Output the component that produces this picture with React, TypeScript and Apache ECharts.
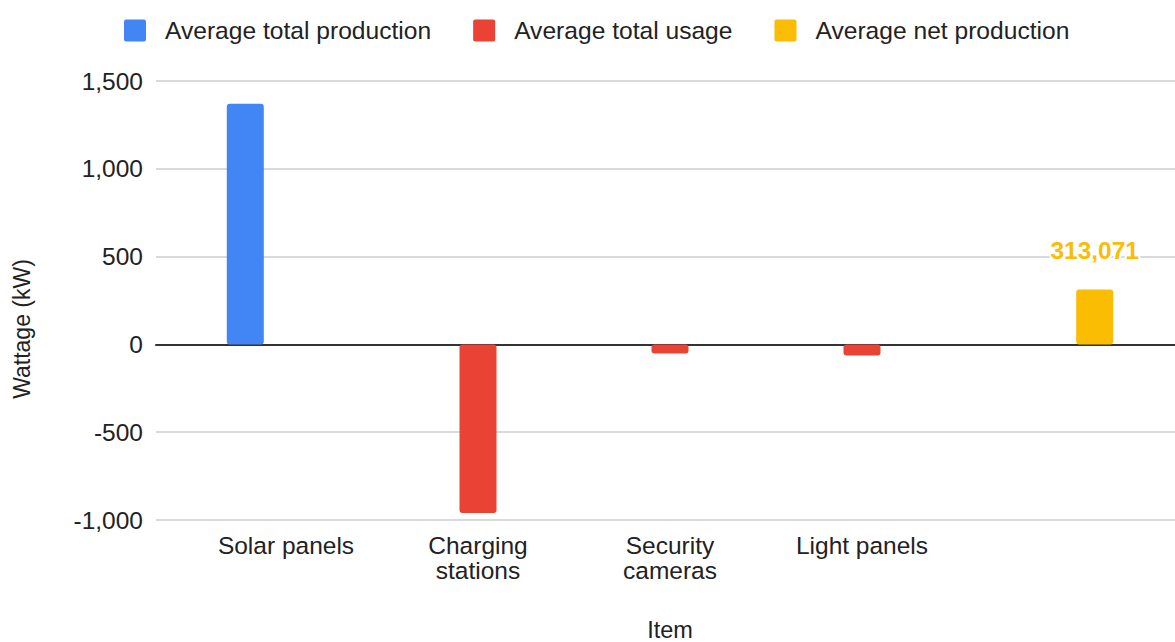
import React, { useEffect, useRef } from "react";
import * as echarts from "echarts";

// Items on the category axis (the last slot holds the net figure)
const items = ["Solar panels", "Charging stations", "Security cameras", "Light panels", ""];

// Average wattage per item, in kW
const totalProduction = [1371, null, null, null, null];
const totalUsage = [null, -960, -52, -63, null];
const netProduction = [null, null, null, null, 313.071];

const seriesNames = ["Average total production", "Average total usage", "Average net production"];
const seriesColors = ["#4285F4", "#EA4335", "#FBBC04"];

const yTicks = { min: -1000, max: 1500, interval: 500 };

const FONT = "'Liberation Sans', Arial, sans-serif";

// Small rounded square used as the legend swatch
const SWATCH =
  "path://M2,0 H20 A2,2 0 0 1 22,2 V20 A2,2 0 0 1 20,22 H2 A2,2 0 0 1 0,20 V2 A2,2 0 0 1 2,0 Z";

export default function App() {
  const ref = useRef<HTMLDivElement>(null);

  useEffect(() => {
    if (!ref.current) return;
    const chart = echarts.init(ref.current, null, { renderer: "svg" });

    const barStyle = (i: number) => ({
      color: seriesColors[i],
      borderRadius: 3,
    });

    const commaDecimal = (v: number) => String(v).replace(".", ",");

    chart.setOption({
      animation: false,
      backgroundColor: "#ffffff",
      textStyle: { fontFamily: FONT },
      legend: {
        left: 124,
        top: 18,
        padding: 0,
        itemWidth: 22,
        itemHeight: 22,
        itemGap: 42,
        icon: SWATCH,
        data: seriesNames,
        textStyle: {
          fontFamily: FONT,
          fontSize: 24.6,
          color: "#222222",
          padding: [0, 0, 0, 14],
        },
      },
      grid: [
        // Frame grid: gridlines and the zero baseline across the full width
        { left: 156, right: 0, top: 81, bottom: 122 },
        // Bar grid: where the categories are laid out
        { left: 190, right: 25, top: 81, bottom: 122 },
      ],
      xAxis: [
        {
          gridIndex: 0,
          type: "category",
          data: [""],
          axisLine: { show: true, onZero: true, lineStyle: { color: "#333333", width: 2 } },
          axisTick: { show: false },
          axisLabel: { show: false },
        },
        {
          gridIndex: 1,
          type: "category",
          data: items,
          axisLine: { show: false, onZero: false },
          axisTick: { show: false },
          axisLabel: {
            interval: 0,
            margin: 13,
            fontFamily: FONT,
            fontSize: 24.5,
            lineHeight: 25,
            color: "#222222",
            align: "center",
            formatter: (v: string) => (v.length > 12 ? v.replace(" ", "\n") : v),
          },
        },
      ],
      yAxis: [
        {
          gridIndex: 0,
          type: "value",
          min: yTicks.min,
          max: yTicks.max,
          interval: yTicks.interval,
          axisLine: { show: false },
          axisTick: { show: false },
          splitLine: { lineStyle: { color: "#cccccc", width: 1.5 } },
          axisLabel: {
            margin: 13,
            fontFamily: FONT,
            fontSize: 24.5,
            color: "#222222",
            formatter: (v: number) => v.toLocaleString("en-US"),
          },
        },
        {
          gridIndex: 1,
          type: "value",
          min: yTicks.min,
          max: yTicks.max,
          interval: yTicks.interval,
          show: false,
        },
      ],
      series: [
        {
          name: seriesNames[0],
          type: "bar",
          xAxisIndex: 1,
          yAxisIndex: 1,
          data: totalProduction,
          barWidth: 37,
          barGap: "10%",
          itemStyle: barStyle(0),
        },
        {
          name: seriesNames[1],
          type: "bar",
          xAxisIndex: 1,
          yAxisIndex: 1,
          data: totalUsage,
          barWidth: 37,
          barGap: "10%",
          itemStyle: barStyle(1),
        },
        {
          name: seriesNames[2],
          type: "bar",
          xAxisIndex: 1,
          yAxisIndex: 1,
          data: netProduction,
          barWidth: 37,
          barGap: "10%",
          itemStyle: barStyle(2),
          label: {
            show: true,
            position: "top",
            distance: 26,
            fontFamily: FONT,
            fontSize: 24.5,
            fontWeight: "bold",
            color: seriesColors[2],
            textBorderColor: "#ffffff",
            textBorderWidth: 4,
            formatter: (p: any) => commaDecimal(p.value),
          },
        },
      ],
      graphic: [
        {
          type: "text",
          x: 22,
          y: 329,
          rotation: Math.PI / 2,
          style: {
            text: "Wattage (kW)",
            fontFamily: FONT,
            fontSize: 23,
            fill: "#222222",
            align: "center",
            verticalAlign: "middle",
          },
        },
        {
          type: "text",
          x: 670,
          y: 630,
          style: {
            text: "Item",
            fontFamily: FONT,
            fontSize: 23.5,
            fill: "#222222",
            align: "center",
            verticalAlign: "middle",
          },
        },
      ],
    });

    return () => chart.dispose();
  }, []);

  return (
    <div
      ref={ref}
      style={{ position: "absolute", left: 0, top: 0, width: 1175, height: 642 }}
    />
  );
}
